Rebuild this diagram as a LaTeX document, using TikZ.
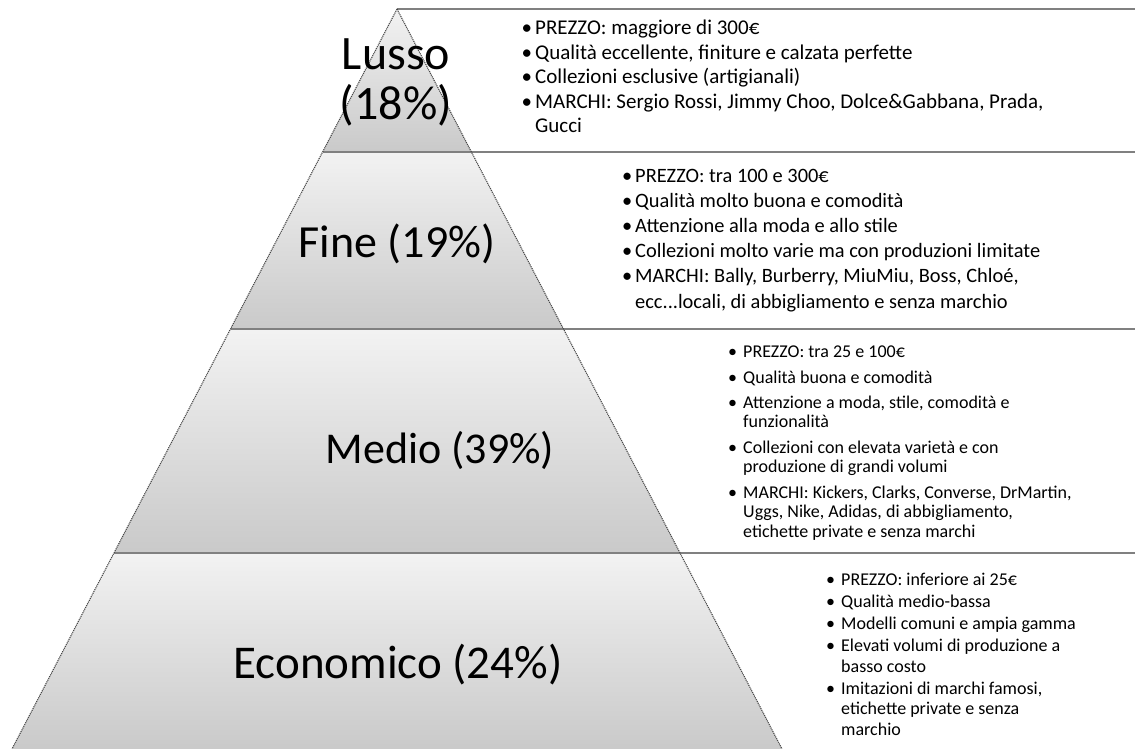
\documentclass[tikz,border=0pt]{standalone}
\usepackage{fontspec}
\setmainfont{Carlito}
\begin{document}
\begin{tikzpicture}[x=1pt,y=-1pt,
  band/.style={top color=black!5, bottom color=black!21, draw=none},
  sep/.style={draw=black!50, line width=1.6pt},
  rim/.style={draw=black!72, line width=1.1pt, dash pattern=on 1.1pt off 0.9pt},
  tier/.style={font=\fontsize{46}{50}\selectfont, inner sep=0pt, anchor=base},
  bignotes/.style={font=\fontsize{20}{24.8}\selectfont, inner sep=0pt, anchor=base west, align=left},
  smallnotes/.style={font=\fontsize{18}{19.5}\selectfont, inner sep=0pt, anchor=base west, align=left},
]
\newcommand\pa{\llap{\textbullet\hspace{3pt}}}
\newcommand\pb{\llap{\textbullet\hspace{6pt}}}
\useasboundingbox (0,0) rectangle (1135,749);

% pyramid corners and band boundaries
\coordinate (apex) at (397,9);
\coordinate (l1) at (322.6,152);  \coordinate (r1) at (471.4,152);
\coordinate (l2) at (230.5,329);  \coordinate (r2) at (563.5,329);
\coordinate (l3) at (114,553);    \coordinate (r3) at (680,553);
\coordinate (l4) at (12,749);     \coordinate (r4) at (782,749);

% shaded tiers
\shade[band] (apex) -- (r1) -- (l1) -- cycle;
\shade[band] (l1) -- (r1) -- (r2) -- (l2) -- cycle;
\shade[band] (l2) -- (r2) -- (r3) -- (l3) -- cycle;
\shade[band] (l3) -- (r3) -- (r4) -- (l4) -- cycle;

% separators running out to the right margin
\coordinate (e0) at (1135,9);
\coordinate (e1) at (1135,152);
\coordinate (e2) at (1135,329);
\coordinate (e3) at (1135,553);
\draw[sep] (apex) -- (e0);
\draw[sep] (l1) -- (e1);
\draw[sep] (l2) -- (e2);
\draw[sep] (l3) -- (e3);

% pyramid sides
\draw[rim] (apex) -- (l4);
\draw[rim] (apex) -- (r4);

% tier labels (multi-line nodes sit on the baseline of their last line)
\node[tier, align=center, font=\fontsize{48}{50}\selectfont] (lusso) at (396,120) {Lusso\\(18\%)};
\node[tier] (fine) at (397,257) {Fine (19\%)};
\node[tier, font=\fontsize{44}{48}\selectfont] (medio) at (440,463) {Medio (39\%)};
\node[tier, font=\fontsize{47}{50}\selectfont] (economico) at (398,678) {Economico (24\%)};

% descriptions
\node[bignotes, font=\fontsize{21}{24.5}\selectfont] (nlusso) at (535,133) {%
\pa PREZZO: maggiore di 300€\\
\pa Qualità eccellente, finiture e calzata perfette\\
\pa Collezioni esclusive (artigianali)\\
\pa MARCHI: Sergio Rossi, Jimmy Choo, Dolce\&Gabbana, Prada,\\
Gucci};

\node[bignotes, font=\fontsize{20.4}{25.2}\selectfont] (nfine) at (635,308) {%
\pa PREZZO: tra 100 e 300€\\
\pa Qualità molto buona e comodità\\
\pa Attenzione alla moda e allo stile\\
\pa Collezioni molto varie ma con produzioni limitate\\
\pa MARCHI: Bally, Burberry, MiuMiu, Boss, Chloé,\\
ecc...locali, di abbigliamento e senza marchio};

\node[smallnotes] (nmedio) at (743,537) {%
\pb PREZZO: tra 25 e 100€\\[5.8pt]
\pb Qualità buona e comodità\\[5.8pt]
\pb Attenzione a moda, stile, comodità e\\
funzionalità\\[5.8pt]
\pb Collezioni con elevata varietà e con\\
produzione di grandi volumi\\[5.8pt]
\pb MARCHI: Kickers, Clarks, Converse, DrMartin,\\
Uggs, Nike, Adidas, di abbigliamento,\\
etichette private e senza marchi};

\node[smallnotes, font=\fontsize{18}{20.5}\selectfont] (neconomico) at (841,735) {%
\pb PREZZO: inferiore ai 25€\\[1.5pt]
\pb Qualità medio-bassa\\[1.5pt]
\pb Modelli comuni e ampia gamma\\[1.5pt]
\pb Elevati volumi di produzione a\\
basso costo\\[1.5pt]
\pb Imitazioni di marchi famosi,\\
etichette private e senza\\
marchio};
\end{tikzpicture}
\end{document}
